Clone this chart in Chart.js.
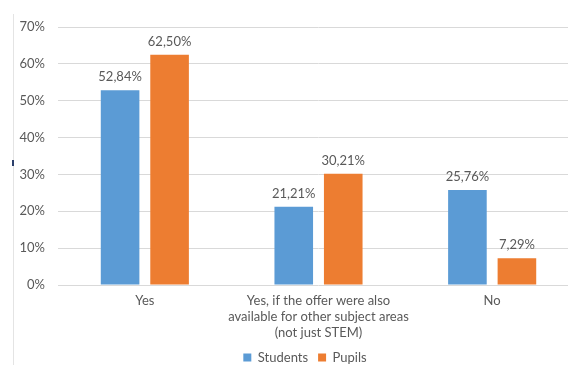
<!DOCTYPE html>
<html>
<head>
<meta charset="utf-8">
<script src="https://cdn.jsdelivr.net/npm/chart.js@4"></script>
<style>
  html, body { margin: 0; padding: 0; background: #fff; overflow: hidden; width: 568px; height: 365px; }
  #wrap { position: relative; width: 580px; height: 382px; }
  #edge { position: absolute; left: 13px; top: 14px; width: 1px; height: 360px; background: #e4e4e4; }
  #mark { position: absolute; left: 12px; top: 160px; width: 2px; height: 6px; background: #2b3f6b; }
</style>
</head>
<body>
<div id="wrap">
  <canvas id="myChart" width="580" height="382"></canvas>
  <div id="edge"></div>
  <div id="mark"></div>
</div>
<script>
const categories = [
  'Yes',
  ['Yes, if the offer were also', 'available for other subject areas', '(not just STEM)'],
  'No'
];
const students = [52.84, 21.21, 25.76];
const pupils = [62.50, 30.21, 7.29];
const yTicks = [0, 10, 20, 30, 40, 50, 60, 70];

const textColor = '#595959';
const fontFamily = 'Lato, "Liberation Sans", sans-serif';

// value labels above each bar, comma as decimal separator
const valueLabels = {
  id: 'valueLabels',
  afterDatasetsDraw(chart) {
    const ctx = chart.ctx;
    ctx.save();
    ctx.font = '13px ' + fontFamily;
    ctx.fillStyle = textColor;
    ctx.textAlign = 'center';
    ctx.textBaseline = 'middle';
    chart.data.datasets.forEach((ds, i) => {
      chart.getDatasetMeta(i).data.forEach((bar, j) => {
        const txt = ds.data[j].toFixed(2).replace('.', ',') + '%';
        ctx.fillText(txt, bar.x, bar.y - 13);
      });
    });
    ctx.restore();
  }
};

// move the legend a bit right and up, closer to the axis labels
const legendShift = {
  id: 'legendShift',
  afterLayout(chart) {
    chart.legend.left += 7;
    chart.legend.right += 7;
    chart.legend.top -= 8;
    chart.legend.bottom -= 8;
  }
};

const ctx = document.getElementById('myChart');

const myChart = new Chart(ctx, {
  type: 'bar',
  data: {
    labels: categories,
    datasets: [
      { label: 'Students', data: students, backgroundColor: '#5B9BD5' },
      { label: 'Pupils', data: pupils, backgroundColor: '#ED7D31' }
    ]
  },
  options: {
    responsive: false,
    animation: false,
    devicePixelRatio: 1,
    categoryPercentage: 0.57,
    barPercentage: 0.78,
    layout: { padding: { top: 27, left: 17, right: 1, bottom: 0 } },
    scales: {
      x: {
        grid: { display: false, drawTicks: false },
        border: { display: false },
        ticks: {
          color: textColor,
          font: { family: fontFamily, size: 13, lineHeight: 1.23 },
          padding: 8,
          autoSkip: false,
          maxRotation: 0
        }
      },
      y: {
        min: 0,
        max: 70,
        afterFit(scale) { scale.width = 41; },
        afterBuildTicks(scale) { scale.ticks = yTicks.map(v => ({ value: v })); },
        grid: { color: '#d9d9d9', drawTicks: false },
        border: { display: false },
        ticks: {
          color: textColor,
          font: { family: fontFamily, size: 13 },
          padding: 13,
          callback: v => v + '%'
        }
      }
    },
    plugins: {
      legend: {
        position: 'bottom',
        labels: {
          color: textColor,
          font: { family: fontFamily, size: 13 },
          boxWidth: 8,
          boxHeight: 8,
          padding: 10
        }
      },
      tooltip: { enabled: false }
    }
  },
  plugins: [valueLabels, legendShift]
});
</script>
</body>
</html>
